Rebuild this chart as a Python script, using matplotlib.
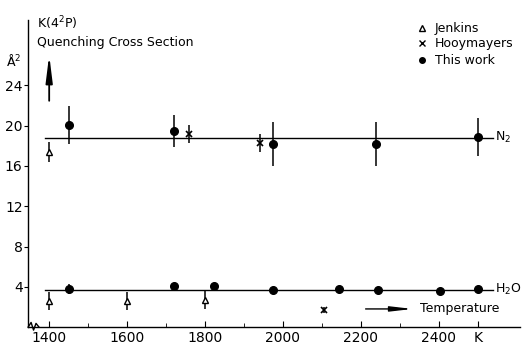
import numpy as np
from matplotlib import pyplot as plt

# N2 data
n2_this_T = [1450, 1720, 1975, 2240, 2500]
n2_this_Q = [20.1, 19.5, 18.2, 18.2, 18.9]
n2_this_err = [1.9, 1.6, 2.2, 2.2, 1.9]
n2_jenk_T = [1400]
n2_jenk_Q = [17.4]
n2_jenk_err = [1.0]
n2_hooy_T = [1760, 1940]
n2_hooy_Q = [19.2, 18.3]
n2_hooy_err = [0.9, 0.9]
n2_fit = 18.8

# H2O data
h2o_this_T = [1450, 1720, 1822, 1975, 2143, 2243, 2403, 2500]
h2o_this_Q = [3.8, 4.1, 4.1, 3.7, 3.8, 3.7, 3.6, 3.8]
h2o_this_err = [0.5, 0.2, 0.2, 0.3, 0.2, 0.2, 0.2, 0.2]
h2o_jenk_T = [1400, 1600, 1800]
h2o_jenk_Q = [2.6, 2.6, 2.7]
h2o_jenk_err = [0.9, 0.9, 0.9]
h2o_hooy_T = [2105]
h2o_hooy_Q = [1.7]
h2o_hooy_err = [0.3]
h2o_fit = 3.7

fit_T = [1390, 2540]
xticks = [1400, 1600, 1800, 2000, 2200, 2400, 2500]
xticklabels = ['1400', '1600', '1800', '2000', '2200', '2400', 'K']
yticks = [4, 8, 12, 16, 20, 24]

plt.rcParams['font.family'] = 'DejaVu Sans'
fig = plt.figure(figsize=(5.31, 3.45), dpi=100)
ax = fig.add_axes([0.053, 0.052, 0.926, 0.89])
ax.set_xlim(1346, 2608)
ax.set_ylim(0, 30.5)

k = 'black'
# fitted lines
ax.plot(fit_T, [n2_fit, n2_fit], color=k, lw=1.0)
ax.plot(fit_T, [h2o_fit, h2o_fit], color=k, lw=1.0)
ax.text(2545, n2_fit, r'N$_2$', va='center', ha='left', fontsize=9)
ax.text(2545, h2o_fit, r'H$_2$O', va='center', ha='left', fontsize=9)

ax.errorbar(n2_this_T, n2_this_Q, yerr=n2_this_err, fmt='o', color=k, ms=5.5, elinewidth=1.1, capsize=0)
ax.errorbar(h2o_this_T, h2o_this_Q, yerr=h2o_this_err, fmt='o', color=k, ms=5.5, elinewidth=1.1, capsize=0)
ax.errorbar(n2_jenk_T, n2_jenk_Q, yerr=n2_jenk_err, fmt='^', mfc='white', mec=k, color=k, ms=4, elinewidth=1.1, capsize=0)
ax.errorbar(h2o_jenk_T, h2o_jenk_Q, yerr=h2o_jenk_err, fmt='^', mfc='white', mec=k, color=k, ms=4, elinewidth=1.1, capsize=0)
ax.errorbar(n2_hooy_T, n2_hooy_Q, yerr=n2_hooy_err, fmt='x', color=k, ms=4, mew=1.2, elinewidth=1.1, capsize=0)
ax.errorbar(h2o_hooy_T, h2o_hooy_Q, yerr=h2o_hooy_err, fmt='x', color=k, ms=4, mew=1.2, elinewidth=1.1, capsize=0)

# legend (drawn by hand like the original)
ax.plot([2358], [29.7], marker='^', mfc='white', mec=k, ms=4, ls='none')
ax.plot([2358], [28.2], marker='x', color=k, ms=4, ls='none')
ax.plot([2358], [26.5], marker='o', color=k, ms=4, ls='none')
ax.text(2390, 29.7, 'Jenkins', va='center', fontsize=9)
ax.text(2390, 28.2, 'Hooymayers', va='center', fontsize=9)
ax.text(2390, 26.5, 'This work', va='center', fontsize=9)

# titles on the axis
ax.text(1368, 30.2, r'K(4$^2$P)', va='center', fontsize=9)
ax.text(1368, 28.3, 'Quenching Cross Section', va='center', fontsize=9)
ax.text(-0.045, 0.865, r'Å$^2$', transform=ax.transAxes, va='center', fontsize=9)
ax.annotate('', xy=(1400, 27.3), xytext=(1400, 22.2),
            arrowprops=dict(arrowstyle='-|>,head_length=1.6,head_width=0.2', color=k, lw=1.3, mutation_scale=10))
ax.annotate('', xy=(2340, 1.8), xytext=(2205, 1.8),
            arrowprops=dict(arrowstyle='-|>,head_length=1.3,head_width=0.15', color=k, lw=1.0, mutation_scale=10))
ax.text(2352, 1.8, 'Temperature', va='center', fontsize=9)

ax.set_xticks(xticks)
ax.set_xticklabels(xticklabels)
ax.set_xticks(np.arange(1500, 2401, 200), minor=True)
ax.set_yticks(yticks)
ax.tick_params(axis='x', direction='in', length=4, labelsize=10, pad=3)
ax.tick_params(axis='x', which='minor', direction='in', length=3)
ax.tick_params(axis='y', direction='out', length=3, labelsize=10, pad=1)
for s in ['top', 'right']:
    ax.spines[s].set_visible(False)
ax.spines['left'].set_linewidth(1.0)
ax.spines['bottom'].set_linewidth(1.0)

# axis break squiggle near the origin
ax.plot([0.0, 0.006, 0.011, 0.016, 0.022], [0.0, 0.015, -0.01, 0.012, 0.0],
        transform=ax.transAxes, color=k, lw=1.0, clip_on=False)

fig.savefig('out.png', dpi=100)
